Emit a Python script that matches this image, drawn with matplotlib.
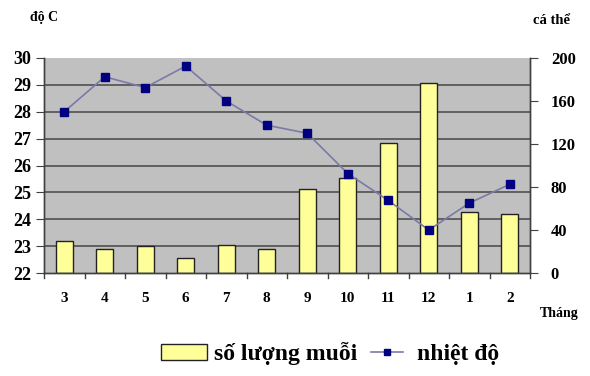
import matplotlib
matplotlib.use("Agg")
import matplotlib.pyplot as plt
import numpy as np
from matplotlib.patches import Patch
from matplotlib.lines import Line2D
from matplotlib.legend_handler import HandlerLine2D

months = ["3", "4", "5", "6", "7", "8", "9", "10", "11", "12", "1", "2"]
mosquito_count = [30, 22, 25, 14, 26, 22, 78, 88, 121, 177, 57, 55]
temperature = [28.0, 29.3, 28.9, 29.7, 28.4, 27.5, 27.2, 25.7, 24.7, 23.6, 24.6, 25.3]

FAMILY = ["Liberation Serif", "DejaVu Serif"]
plt.rcParams["font.family"] = FAMILY
plt.rcParams["font.weight"] = "bold"


class ShortLineHandler(HandlerLine2D):
    """Legend line sample, shorter than the patch sample and centred."""

    def get_xdata(self, legend, xdescent, ydescent, width, height, fontsize):
        short = width * 0.7
        start = -xdescent + (width - short) / 2
        xdata = np.linspace(start, start + short, 2)
        return xdata, np.array([start + short / 2])


fig = plt.figure(figsize=(5.9, 3.76), dpi=100)
ax_t = fig.add_axes([44 / 590, 1 - 273 / 376, (530 - 44) / 590, (273 - 58) / 376])
ax_c = ax_t.twinx()

x = list(range(len(months)))

ax_t.set_xlim(-0.5, len(months) - 0.5)
ax_t.set_ylim(22, 30)
ax_t.set_yticks(range(22, 31))

# mosquito counts on the right axis, grey plot area with a line per degree
ax_c.set_ylim(0, 200)
ax_c.set_yticks(range(0, 201, 40))
ax_c.set_zorder(1)
ax_t.set_zorder(2)
ax_t.patch.set_visible(False)
ax_c.patch.set_facecolor("#c0c0c0")
ax_c.patch.set_visible(True)
for yv in range(23, 30):
    ax_c.axhline((yv - 22) * 25, color="#505050", linewidth=1.2, zorder=0.5)
ax_c.bar(x, mosquito_count, width=0.42, color="#ffff99",
         edgecolor="#222222", linewidth=1.0, zorder=2)

# temperature line on top
ax_t.plot(x, temperature, color="#7a7aa8", linewidth=1.2, marker="s",
          markersize=6, markerfacecolor="#000080", markeredgecolor="#000080")

# x ticks: labels at categories, tick marks at boundaries
ax_t.set_xticks(x)
ax_t.set_xticklabels(months, fontweight="bold", fontsize=11)
ax_t.tick_params(axis="x", length=0, pad=14)
for b in [i - 0.5 for i in range(len(months) + 1)]:
    ax_t.plot([b, b], [22, 21.83], color="#404040", linewidth=1.0,
              clip_on=False, zorder=3)

ax_t.set_yticklabels([str(v) for v in range(22, 31)], fontweight="bold", fontsize=13)
ax_c.set_yticklabels([str(v) for v in range(0, 201, 40)], fontweight="bold", fontsize=12)
ax_t.tick_params(axis="y", direction="out", length=6, color="#404040", pad=3)
ax_c.tick_params(axis="y", direction="out", length=6, color="#404040", pad=9)

for ax in (ax_t, ax_c):
    ax.spines["top"].set_visible(False)
    for s in ("left", "right", "bottom"):
        ax.spines[s].set_color("#404040")
        ax.spines[s].set_linewidth(1.0)

fig.text(30 / 590, 1 - 17 / 376, "độ C", fontsize=10, fontweight="bold", va="center")
fig.text(533 / 590, 1 - 20 / 376, "cá thể", fontsize=10.5, fontweight="bold", va="center")
fig.text(540 / 590, 1 - 313 / 376, "Tháng", fontsize=10, fontweight="bold", va="center")

bar_handle = Patch(facecolor="#ffff99", edgecolor="#222222", linewidth=1.0)
line_handle = Line2D([0], [0], color="#7a7aa8", linewidth=1.2, marker="s",
                     markersize=4, markerfacecolor="#000080",
                     markeredgecolor="#000080")
fig.legend([bar_handle, line_handle], ["số lượng muỗi", "nhiệt độ"],
           loc="center", bbox_to_anchor=(330 / 590, 1 - 354 / 376), ncol=2,
           frameon=False, prop={"family": FAMILY, "size": 17, "weight": "bold"},
           handlelength=1.95, handleheight=0.7, columnspacing=0.3,
           handletextpad=0.3,
           handler_map={Line2D: ShortLineHandler()})

fig.savefig("out.png", dpi=100)
